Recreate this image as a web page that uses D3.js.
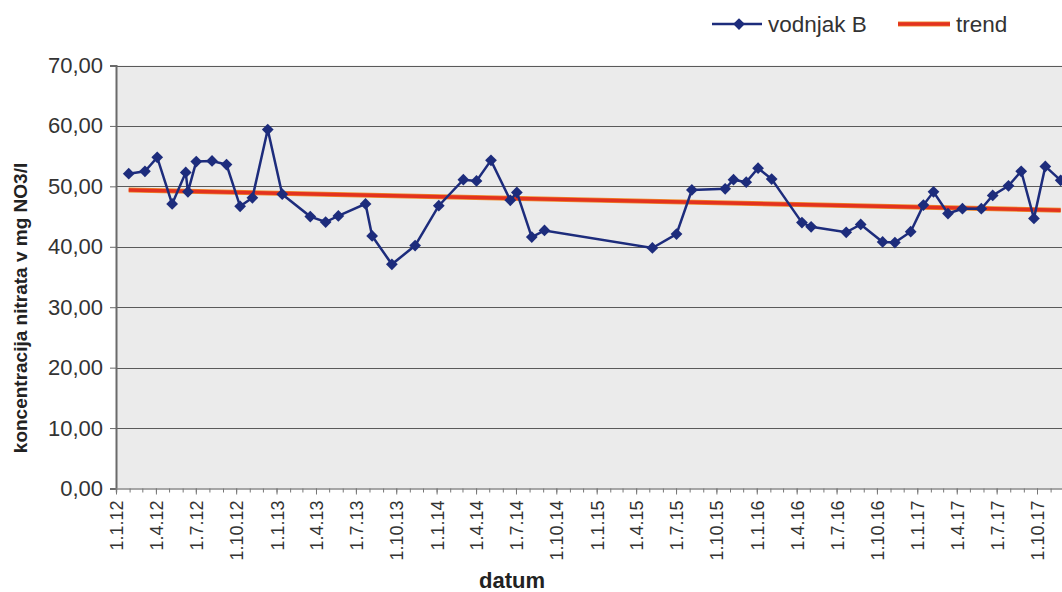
<!DOCTYPE html>
<html><head><meta charset="utf-8">
<script src="https://cdn.jsdelivr.net/npm/d3@7"></script>
<style>html,body{margin:0;padding:0;background:#fff;overflow:hidden}svg{display:block;font-family:"Liberation Sans",Arial,sans-serif}</style>
</head><body>
<svg id="c" width="1062" height="592"></svg>
<script>
const dates = ["2012-01-30","2012-03-07","2012-04-04","2012-05-08","2012-06-08","2012-06-13","2012-07-02","2012-08-07","2012-09-09","2012-10-10","2012-11-07","2012-12-12","2013-01-14","2013-03-19","2013-04-23","2013-05-22","2013-07-23","2013-08-07","2013-09-21","2013-11-13","2014-01-06","2014-03-03","2014-04-02","2014-05-05","2014-06-18","2014-07-03","2014-08-06","2014-09-04","2015-05-08","2015-07-02","2015-08-06","2015-10-21","2015-11-09","2015-12-08","2016-01-04","2016-02-04","2016-04-13","2016-05-04","2016-07-23","2016-08-25","2016-10-14","2016-11-11","2016-12-17","2017-01-15","2017-02-07","2017-03-12","2017-04-14","2017-05-27","2017-06-22","2017-07-28","2017-08-26","2017-09-24","2017-10-20","2017-11-24"];
const values = [52.1,52.5,54.8,47.1,52.3,49.1,54.1,54.2,53.6,46.7,48.1,59.4,48.7,45.0,44.1,45.1,47.1,41.8,37.1,40.2,46.8,51.1,50.9,54.3,47.7,49.0,41.6,42.7,39.8,42.1,49.4,49.6,51.1,50.7,53.0,51.2,44.0,43.3,42.4,43.7,40.8,40.7,42.5,46.9,49.1,45.5,46.3,46.3,48.5,50.1,52.5,44.7,53.3,51.0];
const trendDates = ["2012-01-30","2017-11-24"];
const trendValues = [49.4, 46.05];
const yTicks = [0,10,20,30,40,50,60,70];
const xDomain = ["2012-01-01","2018-01-01"];
const xLabelEnd = "2017-10-01";
const seriesName = "vodnjak B", trendName = "trend";
const yTitle = "koncentracija nitrata v mg NO3/l", xTitle = "datum";

const parse = d3.utcParse("%Y-%m-%d");
const fmt = d3.utcFormat("%-d.%-m.%y");
const svg = d3.select("#c");
const L = 116, perDay = (1037-116)/2100;
const d0 = parse(xDomain[0]), d1 = parse(xDomain[1]);
const R = L + (d1-d0)/864e5*perDay;
const x = d3.scaleUtc().domain([d0,d1]).range([L,R]);
const y = d3.scaleLinear().domain([0,70]).range([488.5,65.5]);
const navy = "#1d2c7c", red = "#e3321f";
const FF = "'Liberation Sans',Arial,sans-serif";

svg.append("rect").attr("x",L).attr("y",y(70)).attr("width",R-L).attr("height",y(0)-y(70)).attr("fill","#ebebeb");
svg.append("g").selectAll("line").data(yTicks.filter(v=>v>0)).join("line")
  .attr("x1",L).attr("x2",R).attr("y1",d=>Math.round(y(d))+0.5).attr("y2",d=>Math.round(y(d))+0.5)
  .attr("stroke","#5a5a5a").attr("stroke-width",1);

const ya = svg.append("g").attr("transform",`translate(${L},0)`)
  .call(d3.axisLeft(y).tickValues(yTicks).tickSize(6).tickFormat(d=>d3.format(".2f")(d).replace(".",",")));
ya.select(".domain").attr("stroke","#6a6a6a").attr("stroke-width",2);
ya.selectAll(".tick line").attr("stroke","#6a6a6a");
ya.selectAll("text").attr("font-size",22).attr("fill","#333").attr("x",-13).style("font-family",FF);

const xm = svg.append("g").attr("transform",`translate(0,${y(0)})`)
  .call(d3.axisBottom(x).ticks(d3.utcMonth.every(1)).tickSize(4).tickFormat(""));
xm.select(".domain").attr("stroke","#8a8a8a").attr("stroke-width",1.5);
xm.selectAll(".tick line").attr("stroke","#777");
const majors = d3.utcMonth.every(3).range(d0, d3.utcDay.offset(parse(xLabelEnd),1));
const xa = svg.append("g").attr("transform",`translate(0,${y(0)})`)
  .call(d3.axisBottom(x).tickValues(majors).tickSize(6).tickFormat(fmt));
xa.select(".domain").remove();
xa.selectAll(".tick line").attr("stroke","#777");
xa.selectAll("text").attr("font-size",18).attr("fill","#333")
  .attr("transform","rotate(-90)").attr("text-anchor","end").attr("x",-12).attr("y",0).attr("dy","0.36em")
  .style("font-family",FF);

const tr = trendDates.map((d,i)=>[parse(d),trendValues[i]]);
const ln = d3.line().x(d=>x(d[0])).y(d=>y(d[1]));
svg.append("path").attr("d",ln(tr)).attr("stroke","#f08a2a").attr("stroke-width",5).attr("fill","none");
svg.append("path").attr("d",ln(tr)).attr("stroke",red).attr("stroke-width",3.6).attr("fill","none");

const data = dates.map((d,i)=>[parse(d),values[i]]);
svg.append("path").attr("d",ln(data)).attr("stroke",navy).attr("stroke-width",2.5).attr("fill","none");
const diamond = d3.symbol().type(d3.symbolDiamond2).size(88);
svg.append("g").selectAll("path").data(data).join("path")
  .attr("d",diamond).attr("transform",d=>`translate(${x(d[0])},${y(d[1])})`)
  .attr("fill",navy);

svg.append("text").attr("transform","translate(27,308) rotate(-90)").attr("text-anchor","middle")
  .attr("font-size",19).attr("font-weight","bold").attr("fill","#222").text(yTitle);
svg.append("text").attr("x",512).attr("y",588).attr("text-anchor","middle")
  .attr("font-size",22).attr("font-weight","bold").attr("fill","#222").text(xTitle);

const lg = svg.append("g");
lg.append("line").attr("x1",712).attr("x2",762).attr("y1",24).attr("y2",24).attr("stroke",navy).attr("stroke-width",2.5);
lg.append("path").attr("d",diamond).attr("transform","translate(739,24)").attr("fill",navy);
lg.append("text").attr("x",768).attr("y",32).attr("font-size",22.5).attr("fill","#333").style("font-family",FF).text(seriesName);
lg.append("line").attr("x1",898).attr("x2",950).attr("y1",24).attr("y2",24).attr("stroke","#f08a2a").attr("stroke-width",5);
lg.append("line").attr("x1",898).attr("x2",950).attr("y1",24).attr("y2",24).attr("stroke",red).attr("stroke-width",3.6);
lg.append("text").attr("x",956).attr("y",32).attr("font-size",22.5).attr("fill","#333").style("font-family",FF).text(trendName);
</script>
</body></html>
